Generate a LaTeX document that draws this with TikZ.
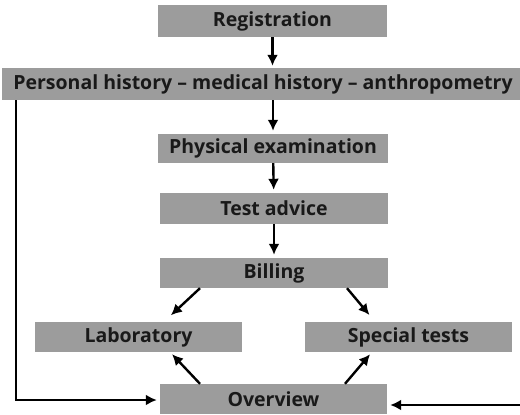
\documentclass[tikz,border=0pt]{standalone}
\usepackage{fontspec}
\setmainfont{Open Sans}
\usetikzlibrary{arrows.meta}
\begin{document}
\begin{tikzpicture}[x=1pt,y=1pt,
  box/.style={fill=boxgray,inner sep=0pt,font=\bfseries\fontsize{19.5}{22}\selectfont,text=black!90},
  arr/.style={line width=2.4pt,-{Latex[length=11pt,width=11pt]}}]
\definecolor{boxgray}{HTML}{9C9C9C}
\useasboundingbox (0,0) rectangle (520,-415);
\fill[white] (0,0) rectangle (520,-415);
\node[box,minimum width=229,minimum height=32] (reg) at (272.5,-21) {Registration};
\node[box,minimum width=522,minimum height=32] (pers) at (263,-84) {Personal history – medical history – anthropometry};
\node[box,minimum width=230,minimum height=29] (phys) at (273,-148.5) {Physical examination};
\node[box,minimum width=228,minimum height=31] (test) at (274,-208.5) {Test advice};
\node[box,minimum width=228,minimum height=30] (bill) at (274,-273) {Billing};
\node[box,minimum width=207,minimum height=30] (lab) at (138.5,-337) {Laboratory};
\node[box,minimum width=207,minimum height=30] (spec) at (408.5,-337) {Special tests};
\node[box,minimum width=227,minimum height=30] (ov) at (273.5,-399) {Overview};
\coordinate (L) at (16,-100);
\coordinate (R) at (530,-405);
\draw[arr,shorten >=2pt] (reg) -- (pers.north -| reg);
\draw[arr,shorten >=3pt] (pers.south -| phys) -- (phys);
\draw[arr,shorten >=3pt] (phys) -- (test);
\draw[arr,shorten >=3pt] (test) -- (bill);
\draw[arr,shorten >=4pt] (bill.south -| 200,0) -- (168,-318);
\draw[arr,shorten >=4pt] (bill.south -| 347,0) -- (372,-318);
\draw[arr,shorten >=3pt] (ov.north -| 200,0) -- (170,-352);
\draw[arr,shorten >=3pt] (ov.north -| 345,0) -- (372,-352);
\draw[arr,shorten >=3pt] (L) |- ([yshift=-1pt]ov.west);
\draw[arr,shorten >=3pt] (R) -- ([yshift=-6pt]ov.east);
\end{tikzpicture}
\end{document}
